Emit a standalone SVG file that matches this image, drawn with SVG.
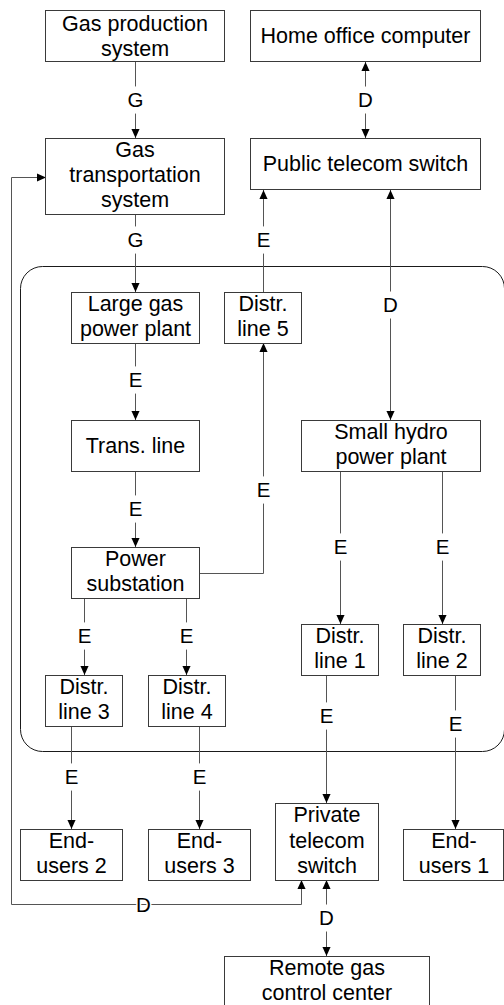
<svg xmlns="http://www.w3.org/2000/svg" width="504" height="1005" viewBox="0 0 504 1005">
<style>
  .box { fill: #fff; stroke: #3a3a3a; stroke-width: 1; }
  .t { font-family: "Liberation Sans", Arial, sans-serif; font-size: 21.5px; fill: #000; text-anchor: middle; }
  .c { fill: none; stroke: #555; stroke-width: 1; }
  .lbl { font-family: "Liberation Sans", Arial, sans-serif; font-size: 20.5px; fill: #000; text-anchor: middle; stroke: #fff; stroke-width: 13; stroke-linejoin: round; paint-order: stroke; }
  .lbl2 { stroke-width: 3; }
  .region { fill: none; stroke: #1a1a1a; stroke-width: 1; }
</style>
<defs>
  <marker id="ah" viewBox="0 0 10 10" refX="10" refY="5" markerWidth="9" markerHeight="9" markerUnits="userSpaceOnUse" orient="auto-start-reverse">
    <path d="M0,0.5 L10,5 L0,9.5 z" fill="#000"/>
  </marker>
</defs>
<rect width="504" height="1005" fill="#fff"/>
<g id="region">
  <rect class="region" x="20.5" y="266.5" width="484" height="485" rx="22" ry="22"/>
</g>
<g id="connectors">
  <path class="c" d="M135.5,62 V138" marker-end="url(#ah)"/>
  <text class="lbl" x="135.5" y="107">G</text>
  <path class="c" d="M365.5,62 V138" marker-start="url(#ah)" marker-end="url(#ah)"/>
  <text class="lbl" x="365.5" y="107">D</text>
  <path class="c" d="M301.5,880 V904.5 H11.5 V177.5 H46" marker-start="url(#ah)" marker-end="url(#ah)"/>
  <text class="lbl lbl2" x="143.5" y="911.7">D</text>
  <path class="c" d="M135.5,215 V292" marker-end="url(#ah)"/>
  <text class="lbl" x="135.5" y="246.7">G</text>
  <path class="c" d="M263.5,292 V190" marker-end="url(#ah)"/>
  <text class="lbl" x="263.5" y="246.7">E</text>
  <path class="c" d="M390.5,190 V420" marker-start="url(#ah)" marker-end="url(#ah)"/>
  <text class="lbl" x="390.5" y="311.7">D</text>
  <path class="c" d="M135.5,343 V420" marker-end="url(#ah)"/>
  <text class="lbl" x="135.5" y="387.3">E</text>
  <path class="c" d="M135.5,471 V547" marker-end="url(#ah)"/>
  <text class="lbl" x="135.5" y="516">E</text>
  <path class="c" d="M199,573.5 H263.5 V343" marker-end="url(#ah)"/>
  <text class="lbl" x="263.5" y="496.7">E</text>
  <path class="c" d="M340.5,471 V624" marker-end="url(#ah)"/>
  <text class="lbl" x="340.5" y="554">E</text>
  <path class="c" d="M442.5,471 V624" marker-end="url(#ah)"/>
  <text class="lbl" x="442.5" y="554">E</text>
  <path class="c" d="M84.5,598 V675" marker-end="url(#ah)"/>
  <text class="lbl" x="84.5" y="643.3">E</text>
  <path class="c" d="M186.5,598 V675" marker-end="url(#ah)"/>
  <text class="lbl" x="186.5" y="643.3">E</text>
  <path class="c" d="M71.5,726 V829" marker-end="url(#ah)"/>
  <text class="lbl" x="71.5" y="783.5">E</text>
  <path class="c" d="M199.5,726 V829" marker-end="url(#ah)"/>
  <text class="lbl" x="199.5" y="783.5">E</text>
  <path class="c" d="M326.5,675 V803" marker-end="url(#ah)"/>
  <text class="lbl" x="326.5" y="722.7">E</text>
  <path class="c" d="M455.5,675 V829" marker-end="url(#ah)"/>
  <text class="lbl" x="455.5" y="730.7">E</text>
  <path class="c" d="M326.5,880 V956" marker-start="url(#ah)" marker-end="url(#ah)"/>
  <text class="lbl" x="326.5" y="925">D</text>
</g>
<g id="gas-production">
  <rect class="box" x="45.5" y="10.5" width="179" height="51"/>
  <text class="t" x="135" y="30.5">Gas production</text>
  <text class="t" x="135" y="55.5">system</text>
</g>
<g id="home-office">
  <rect class="box" x="250.5" y="10.5" width="230" height="51"/>
  <text class="t" x="365.5" y="43">Home office computer</text>
</g>
<g id="gas-transportation">
  <rect class="box" x="45.5" y="138.5" width="179" height="76"/>
  <text class="t" x="135" y="157">Gas</text>
  <text class="t" x="135" y="182">transportation</text>
  <text class="t" x="135" y="207">system</text>
</g>
<g id="public-telecom">
  <rect class="box" x="250.5" y="138.5" width="230" height="51"/>
  <text class="t" x="365.5" y="170.5">Public telecom switch</text>
</g>
<g id="large-gas">
  <rect class="box" x="71.5" y="292.5" width="128" height="51"/>
  <text class="t" x="135.5" y="311">Large gas</text>
  <text class="t" x="135.5" y="336">power plant</text>
</g>
<g id="distr-line-5">
  <rect class="box" x="224.5" y="292.5" width="77" height="51"/>
  <text class="t" x="263" y="311">Distr.</text>
  <text class="t" x="263" y="336">line 5</text>
</g>
<g id="trans-line">
  <rect class="box" x="71.5" y="420.5" width="128" height="51"/>
  <text class="t" x="135.5" y="452.5">Trans. line</text>
</g>
<g id="small-hydro">
  <rect class="box" x="301.5" y="420.5" width="179" height="51"/>
  <text class="t" x="391" y="439.3">Small hydro</text>
  <text class="t" x="391" y="464.3">power plant</text>
</g>
<g id="power-substation">
  <rect class="box" x="71.5" y="547.5" width="128" height="51"/>
  <text class="t" x="135.5" y="566">Power</text>
  <text class="t" x="135.5" y="591">substation</text>
</g>
<g id="distr-line-1">
  <rect class="box" x="301.5" y="624.5" width="77" height="51"/>
  <text class="t" x="340" y="643">Distr.</text>
  <text class="t" x="340" y="668">line 1</text>
</g>
<g id="distr-line-2">
  <rect class="box" x="403.5" y="624.5" width="77" height="51"/>
  <text class="t" x="442" y="643">Distr.</text>
  <text class="t" x="442" y="668">line 2</text>
</g>
<g id="distr-line-3">
  <rect class="box" x="45.5" y="675.5" width="77" height="51"/>
  <text class="t" x="84" y="694">Distr.</text>
  <text class="t" x="84" y="719">line 3</text>
</g>
<g id="distr-line-4">
  <rect class="box" x="148.5" y="675.5" width="77" height="51"/>
  <text class="t" x="187" y="694">Distr.</text>
  <text class="t" x="187" y="719">line 4</text>
</g>
<g id="end-users-2">
  <rect class="box" x="20.5" y="829.5" width="102" height="51"/>
  <text class="t" x="71.5" y="848">End-</text>
  <text class="t" x="71.5" y="873">users 2</text>
</g>
<g id="end-users-3">
  <rect class="box" x="148.5" y="829.5" width="102" height="51"/>
  <text class="t" x="199.5" y="848">End-</text>
  <text class="t" x="199.5" y="873">users 3</text>
</g>
<g id="private-telecom">
  <rect class="box" x="275.5" y="803.5" width="103" height="77"/>
  <text class="t" x="327" y="822">Private</text>
  <text class="t" x="327" y="848">telecom</text>
  <text class="t" x="327" y="873">switch</text>
</g>
<g id="end-users-1">
  <rect class="box" x="403.5" y="829.5" width="100" height="51"/>
  <text class="t" x="454" y="848">End-</text>
  <text class="t" x="454" y="873">users 1</text>
</g>
<g id="remote-gas-control">
  <rect class="box" x="224.5" y="956.5" width="205" height="51"/>
  <text class="t" x="327" y="975">Remote gas</text>
  <text class="t" x="327" y="1000">control center</text>
</g>
</svg>
